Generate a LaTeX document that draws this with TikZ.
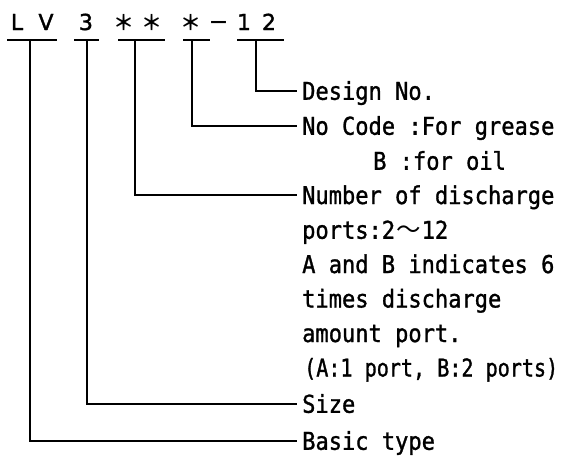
\documentclass[tikz,border=0pt]{standalone}
\usepackage{fontspec}
\newfontfamily\bodyfont[FakeStretch=0.9,FakeBold=1.2]{DejaVu Sans Mono}
\newfontfamily\narrowbody[FakeStretch=0.82,FakeBold=1.2]{DejaVu Sans Mono}
\newfontfamily\headfont[FakeBold=1.6]{DejaVu Sans}
\newfontfamily\cjk{Noto Sans CJK JP}
\newfontfamily\cjkbold{Noto Sans CJK JP Bold}
\begin{document}
\begin{tikzpicture}[x=1pt,y=-1pt,
  conn/.style={line width=1.6pt, line cap=butt},
  lbl/.style={anchor=base west, inner sep=0pt, font=\bodyfont\fontsize{24.5}{28}\selectfont},
  hd/.style={anchor=base, inner sep=0pt, font=\headfont\fontsize{22}{24}\selectfont},
  ast/.style={anchor=base, inner sep=0pt, font=\cjkbold\fontsize{21}{24}\selectfont}]
\useasboundingbox (0,0) rectangle (580,456);
% header characters
\node[hd]  (cL)  at (17,30)  {L};
\node[hd]  (cV)  at (46,30)  {V};
\node[hd]  (c3)  at (86,30)  {3};
\node[ast] (ca1) at (124,30) {＊};
\node[ast] (ca2) at (152,30) {＊};
\node[ast] (ca3) at (191,30) {＊};
\node[ast] (cm)  at (219,30) {－};
\node[hd]  (c1)  at (244,30) {1};
\node[hd]  (c2)  at (269,30) {2};
% underlines
\coordinate (uLVa) at (7,40);   \coordinate (uLVb) at (57,40);
\coordinate (u3a)  at (74,40);  \coordinate (u3b)  at (99,40);
\coordinate (uAAa) at (118,40); \coordinate (uAAb) at (165,40);
\coordinate (uAa)  at (183,40); \coordinate (uAb)  at (210,40);
\coordinate (u12a) at (237,40); \coordinate (u12b) at (284,40);
\draw[conn] (uLVa) -- (uLVb);
\draw[conn] (u3a) -- (u3b);
\draw[conn] (uAAa) -- (uAAb);
\draw[conn] (uAa) -- (uAb);
\draw[conn] (u12a) -- (u12b);
% stem points
\coordinate (sLV) at (30,40);
\coordinate (s3)  at (87,40);
\coordinate (sAA) at (135,40);
\coordinate (sA)  at (192,40);
\coordinate (s12) at (256,40);
% labels
\node[lbl] (design) at (302,99.75) {Design No.};
\node[lbl] (code)   at (302,134.75) {No Code :For grease};
\node[lbl] (oil)    at (373,169.75) {B :for oil};
\node[lbl] (num)    at (302,204) {Number of discharge};
\node[lbl] (ports)  at (302,238.75) {ports:2\makebox[26.6pt]{\cjk 〜}12};
\node[lbl] (ab)     at (302,273) {A and B indicates 6};
\node[lbl] (times)  at (302,307.5) {times discharge};
\node[lbl] (amount) at (302,342) {amount port.};
\node[lbl, font=\narrowbody\fontsize{24.5}{28}\selectfont] (paren) at (304,376.5) {(A:1 port, B:2 ports)};
\node[lbl] (size)   at (302,412.75) {Size};
\node[lbl] (basic)  at (302,449.75) {Basic type};
% connectors
\draw[conn] (s12) |- ([xshift=-5pt,yshift=8.75pt]design.base west);
\draw[conn] (sA)  |- ([xshift=-5pt,yshift=8.75pt]code.base west);
\draw[conn] (sAA) |- ([xshift=-5pt,yshift=8.75pt]num.base west);
\draw[conn] (s3)  |- ([xshift=-5pt,yshift=8.75pt]size.base west);
\draw[conn] (sLV) |- ([xshift=-5pt,yshift=8.75pt]basic.base west);
\end{tikzpicture}
\end{document}
